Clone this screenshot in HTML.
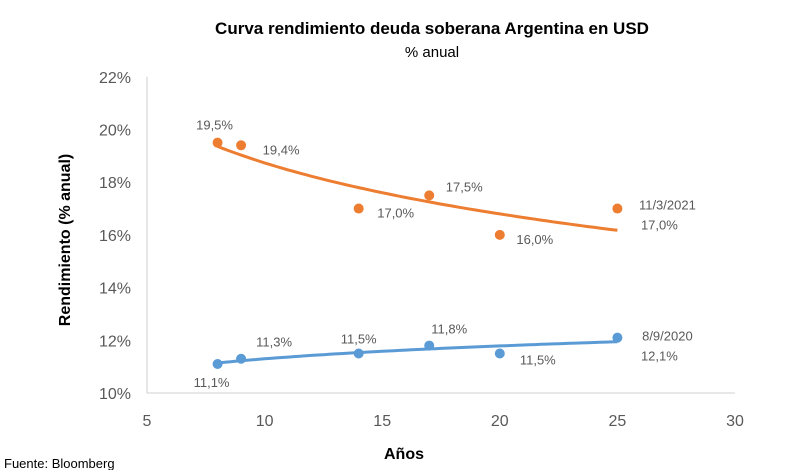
<!DOCTYPE html>
<html><head><meta charset="utf-8"><style>
body{margin:0;background:#fff;}
svg text{font-family:"Liberation Sans",sans-serif;}
</style></head><body>
<svg id="chart" width="800" height="470" xmlns="http://www.w3.org/2000/svg">
<text x="432" y="34" text-anchor="middle" font-size="17" font-weight="bold" fill="#000">Curva rendimiento deuda soberana Argentina en USD</text>
<text x="432" y="57" text-anchor="middle" font-size="15" fill="#000">% anual</text>
<text transform="translate(70,240) rotate(-90)" text-anchor="middle" font-size="16" font-weight="bold" fill="#000">Rendimiento (% anual)</text>
<text x="404" y="459" text-anchor="middle" font-size="16" font-weight="bold" fill="#000">Años</text>
<text x="4" y="468" font-size="13" fill="#000">Fuente: Bloomberg</text>
<g id="plot"></g>
</svg>
<script>
const xTicks=[5,10,15,20,25,30];
const yTicks=[10,12,14,16,18,20,22];
const yTickLabels=["10%","12%","14%","16%","18%","20%","22%"];
const years=[8,9,14,17,20,25];
const mar2021=[19.5,19.4,17.0,17.5,16.0,17.0];
const sep2020=[11.1,11.3,11.5,11.8,11.5,12.1];
const marLabels=["19,5%","19,4%","17,0%","17,5%","16,0%","17,0%"];
const sepLabels=["11,1%","11,3%","11,5%","11,8%","11,5%","12,1%"];
const marLabelOff=[[-3,-18],[40,4],[37,4],[35,-9],[35,4],[42,16]];
const sepLabelOff=[[-6,18],[33,-17],[0,-15],[20,-17],[38,6],[42,18]];

const X=v=>147+(v-5)*23.52;
const Y=v=>393-(v-10)*26.35;
const g=document.getElementById('plot');
const NS='http://www.w3.org/2000/svg';
function mk(t,a){const e=document.createElementNS(NS,t);for(const k in a)e.setAttribute(k,a[k]);g.appendChild(e);return e;}

let ax=mk('line',{x1:X(5),y1:Y(22),x2:X(5),y2:Y(10),stroke:'#d9d9d9','stroke-width':1.3});


let bx=mk('line',{x1:X(5),y1:Y(10),x2:X(30),y2:Y(10),stroke:'#d9d9d9','stroke-width':1.3});


yTicks.forEach((v,i)=>{const t=mk('text',{x:X(5)-16,y:Y(v)+6,'text-anchor':'end','font-size':16,fill:'#595959'});t.textContent=yTickLabels[i];

});
xTicks.forEach(v=>{const t=mk('text',{x:X(v),y:426,'text-anchor':'middle','font-size':16,fill:'#595959'});t.textContent=v;

});

function logFit(xs,ys){const lx=xs.map(Math.log);const n=xs.length;const mx=lx.reduce((a,b)=>a+b)/n,my=ys.reduce((a,b)=>a+b)/n;let sxy=0,sxx=0;lx.forEach((l,i)=>{sxy+=(l-mx)*(ys[i]-my);sxx+=(l-mx)*(l-mx);});const b=sxy/sxx;return x=>my+b*(Math.log(x)-mx);}

function series(vals,labels,offs,color,name,dateLabel){
  const f=logFit(years,vals);let d='';
  for(let x=years[0];x<=years[years.length-1]+1e-9;x+=0.25){d+=(d?'L':'M')+X(x).toFixed(1)+','+Y(f(x)).toFixed(1);}
  const p=mk('path',{d:d,fill:'none',stroke:color,'stroke-width':3});
  
  
  vals.forEach((v,i)=>{
    const c=mk('circle',{cx:X(years[i]),cy:Y(v),r:5,fill:color});
    
    
    const t=mk('text',{x:X(years[i])+offs[i][0],y:Y(v)+offs[i][1]+5,'text-anchor':'middle','font-size':13,fill:'#595959'});
    t.textContent=labels[i];
    
    
  });
  const last=vals.length-1;
  const dl=mk('text',{x:X(years[last])+50,y:Y(vals[last])+offs[last][1]-15,'text-anchor':'middle','font-size':13,fill:'#595959'});
  dl.textContent=dateLabel;
  
  
}
series(mar2021,marLabels,marLabelOff,'#ed7d31','mar-2021','11/3/2021');
series(sep2020,sepLabels,sepLabelOff,'#5b9bd5','sep-2020','8/9/2020');
</script>
</body></html>
